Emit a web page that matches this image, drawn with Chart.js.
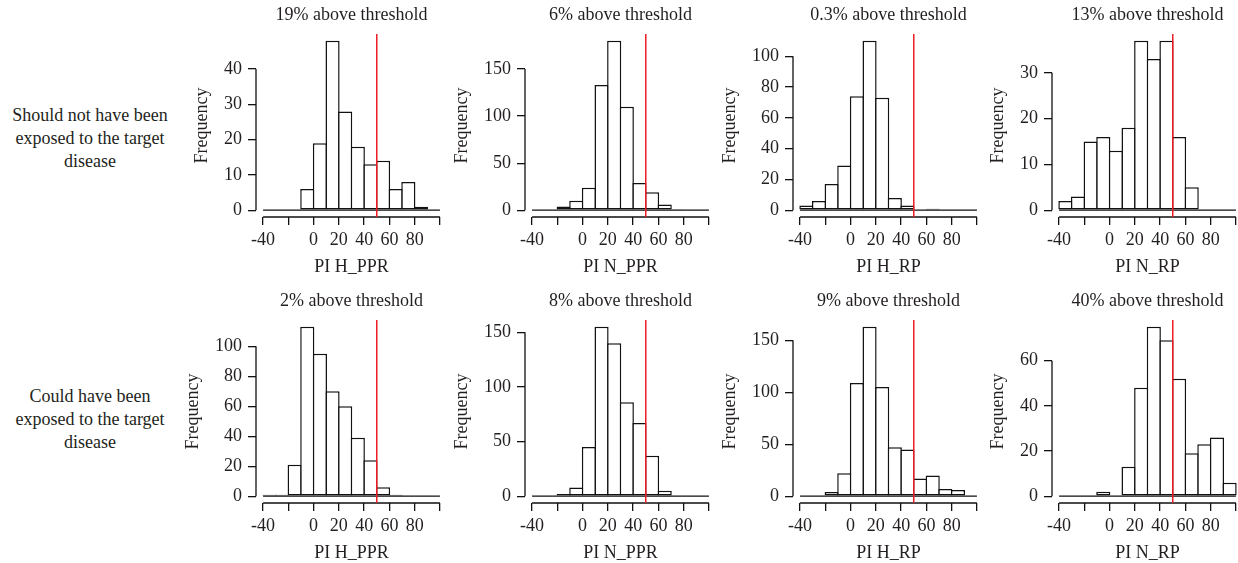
<!DOCTYPE html>
<html>
<head>
<meta charset="utf-8">
<script src="https://cdn.jsdelivr.net/npm/chart.js@4"></script>
<style>
    html, body { margin: 0; padding: 0; background: #fff; overflow: hidden; }
    #figura { position: relative; width: 1238px; height: 563px; overflow: hidden; background: #fff; }
    #figura canvas { position: absolute; }
    .rotulo-linha {
        position: absolute; left: 0; width: 180px; text-align: center;
        font: 18px/23px "Liberation Serif", "Times New Roman", serif; color: #231f20;
    }
</style>
</head>
<body>
<div id="figura"></div>
<script>
// Classes do histograma: largura 10, de -40 a 100
const limitesClasses = [-40, -30, -20, -10, 0, 10, 20, 30, 40, 50, 60, 70, 80, 90, 100];
const marcasX = [-40, -20, 0, 20, 40, 60, 80, 100];
const rotulosX = [-40, 0, 20, 40, 60, 80];
const limiar = 50;

const rotulosLinhas = [
    ["Should not have been", "exposed to the target", "disease"],
    ["Could have been", "exposed to the target", "disease"]
];
const titulosEixoX = ["PI H_PPR", "PI N_PPR", "PI H_RP", "PI N_RP"];

// Linha 1: não deveriam ter sido expostos
const titulosNaoExpostos = ["19% above threshold", "6% above threshold", "0.3% above threshold", "13% above threshold"];
const hPprNaoExpostos = [0, 0, 0, 6, 19, 48, 28, 18, 13, 14, 6, 8, 1, 0];
const nPprNaoExpostos = [0, 0, 4, 10, 24, 133, 180, 110, 29, 19, 6, 1, 0, 0];
const hRpNaoExpostos  = [3, 6, 17, 29, 74, 110, 73, 8, 3, 0, 1, 0, 0, 0];
const nRpNaoExpostos  = [2, 3, 15, 16, 13, 18, 37, 33, 37, 16, 5, 0, 0, 0];
const marcasYNaoExpostos = [
    [0, 10, 20, 30, 40],
    [0, 50, 100, 150],
    [0, 20, 40, 60, 80, 100],
    [0, 10, 20, 30]
];

// Linha 2: podem ter sido expostos
const titulosExpostos = ["2% above threshold", "8% above threshold", "9% above threshold", "40% above threshold"];
const hPprExpostos = [1, 1, 21, 113, 95, 70, 60, 39, 24, 6, 1, 0, 0, 0];
const nPprExpostos = [0, 0, 2, 8, 45, 155, 140, 86, 67, 37, 5, 0, 0, 0];
const hRpExpostos  = [0, 0, 4, 22, 109, 163, 105, 47, 45, 17, 20, 7, 6, 0];
const nRpExpostos  = [0, 0, 0, 2, 0, 13, 48, 75, 69, 52, 19, 23, 26, 6];
const marcasYExpostos = [
    [0, 20, 40, 60, 80, 100],
    [0, 50, 100, 150],
    [0, 50, 100, 150],
    [0, 20, 40, 60]
];

const linhas = [
    { titulos: titulosNaoExpostos, series: [hPprNaoExpostos, nPprNaoExpostos, hRpNaoExpostos, nRpNaoExpostos], marcasY: marcasYNaoExpostos },
    { titulos: titulosExpostos, series: [hPprExpostos, nPprExpostos, hRpExpostos, nRpExpostos], marcasY: marcasYExpostos }
];

// Posições da grade de painéis (px)
const esquerdaPlot = [256, 525, 793, 1052];
const topoPlot = [34, 320];
const topoRotulo = [103.5, 385];
const LARGURA_EIXO_Y = 80, LARGURA_PLOT = 191, ALTURA_TITULO = 34, ALTURA_PLOT = 183, ALTURA_EIXO_X = 62, MARGEM_DIR = 4;
const ESPESSURA = 1.5;

const COR_TEXTO = '#231f20';
const COR_TRACO = '#111111';
const FONTE = '"Liberation Serif", "Times New Roman", serif';

Chart.defaults.font.family = FONTE;
Chart.defaults.font.size = 18;
Chart.defaults.color = COR_TEXTO;

// Eixos no estilo do R (linha só entre a primeira e a última marca), linha de base e limiar
const molduraR = {
    id: 'molduraR',
    afterDatasetsDraw(chart) {
        const { ctx, chartArea, scales: { x, y } } = chart;
        const y0 = y.getPixelForValue(0);
        ctx.save();
        ctx.strokeStyle = COR_TRACO;
        ctx.lineWidth = 1.3;
        ctx.beginPath();
        ctx.moveTo(x.getPixelForValue(limitesClasses[0]), y0);
        ctx.lineTo(x.getPixelForValue(limitesClasses[limitesClasses.length - 1]), y0);
        ctx.moveTo(x.getPixelForValue(x.ticks[0].value), chartArea.bottom);
        ctx.lineTo(x.getPixelForValue(x.ticks[x.ticks.length - 1].value), chartArea.bottom);
        ctx.moveTo(chartArea.left, y.getPixelForValue(y.ticks[0].value));
        ctx.lineTo(chartArea.left, y.getPixelForValue(y.ticks[y.ticks.length - 1].value));
        ctx.stroke();

        const xl = x.getPixelForValue(limiar);
        ctx.strokeStyle = '#ed1c24';
        ctx.lineWidth = 1.5;
        ctx.beginPath();
        ctx.moveTo(xl, chartArea.top);
        ctx.lineTo(xl, chartArea.bottom);
        ctx.stroke();
        ctx.restore();
    }
};

function criarPainel(figura, linha, coluna) {
    const contagens = linhas[linha].series[coluna];
    const marcasY = linhas[linha].marcasY[coluna];
    const maximo = Math.max(...contagens);
    const faixaX = limitesClasses[limitesClasses.length - 1] - limitesClasses[0];
    // largura de uma classe em px, para as bordas vizinhas se sobreporem
    const larguraClasse = LARGURA_PLOT * 10 / (faixaX * 1.08);

    const pontos = contagens.map((c, i) => ({ x: (limitesClasses[i] + limitesClasses[i + 1]) / 2, y: c }));

    const canvas = document.createElement('canvas');
    canvas.width = LARGURA_EIXO_Y + LARGURA_PLOT + MARGEM_DIR;
    canvas.height = ALTURA_TITULO + ALTURA_PLOT + ALTURA_EIXO_X;
    canvas.style.left = (esquerdaPlot[coluna] - LARGURA_EIXO_Y) + 'px';
    canvas.style.top = (topoPlot[linha] - ALTURA_TITULO) + 'px';
    figura.appendChild(canvas);

    const grafico = new Chart(canvas, {
        type: 'bar',
        data: {
            datasets: [{
                data: pontos,
                backgroundColor: '#ffffff',
                borderColor: COR_TRACO,
                borderWidth: ESPESSURA,
                borderSkipped: false,
                barPercentage: 1 + ESPESSURA / larguraClasse,
                categoryPercentage: 1
            }]
        },
        options: {
            responsive: false,
            animation: false,
            devicePixelRatio: 1,
            events: [],
            layout: { padding: { top: 0, left: 0, right: MARGEM_DIR, bottom: 0 } },
            plugins: {
                legend: { display: false },
                tooltip: { enabled: false },
                title: {
                    display: true,
                    text: linhas[linha].titulos[coluna],
                    fullSize: false,
                    color: COR_TEXTO,
                    font: { size: 18, weight: 'normal' },
                    padding: { top: 4, bottom: 8.4 }
                }
            },
            scales: {
                x: {
                    type: 'linear',
                    offset: false,
                    bounds: 'data',
                    min: limitesClasses[0] - 0.04 * faixaX,
                    max: limitesClasses[limitesClasses.length - 1] + 0.04 * faixaX,
                    afterBuildTicks: (eixo) => { eixo.ticks = marcasX.map(v => ({ value: v })); },
                    afterFit: (eixo) => { eixo.height = ALTURA_EIXO_X; },
                    ticks: {
                        autoSkip: false,
                        maxRotation: 0,
                        padding: 4,
                        callback: (v) => rotulosX.includes(v) ? String(v) : ''
                    },
                    grid: { offset: false, drawOnChartArea: false, drawTicks: true, tickLength: 8, color: COR_TRACO, lineWidth: 1.3 },
                    border: { display: false },
                    title: { display: true, text: titulosEixoX[coluna], padding: { top: 0, bottom: 1.2 } }
                },
                y: {
                    type: 'linear',
                    bounds: 'data',
                    min: -0.04 * maximo,
                    max: 1.04 * maximo,
                    afterBuildTicks: (eixo) => { eixo.ticks = marcasY.map(v => ({ value: v })); },
                    ticks: { padding: 6, callback: (v) => String(v) },
                    grid: { drawOnChartArea: false, drawTicks: true, tickLength: 8, color: COR_TRACO, lineWidth: 1.3 },
                    border: { display: false },
                    title: { display: true, text: 'Frequency', padding: { top: 0, bottom: 4.5 } }
                }
            }
        },
        plugins: [molduraR]
    });

    // Área do gráfico começa sempre na mesma coluna, qualquer que seja a largura dos rótulos de y
    grafico.options.layout.padding = {
        top: 0, right: MARGEM_DIR, bottom: 0,
        left: LARGURA_EIXO_Y - grafico.scales.y.width
    };
    grafico.update('none');
}

document.addEventListener('DOMContentLoaded', () => {
    const figura = document.getElementById('figura');

    rotulosLinhas.forEach((texto, i) => {
        const div = document.createElement('div');
        div.className = 'rotulo-linha';
        div.style.top = topoRotulo[i] + 'px';
        div.innerHTML = texto.join('<br>');
        figura.appendChild(div);
    });

    linhas.forEach((_, linha) => {
        esquerdaPlot.forEach((_, coluna) => criarPainel(figura, linha, coluna));
    });
});
</script>
</body>
</html>
